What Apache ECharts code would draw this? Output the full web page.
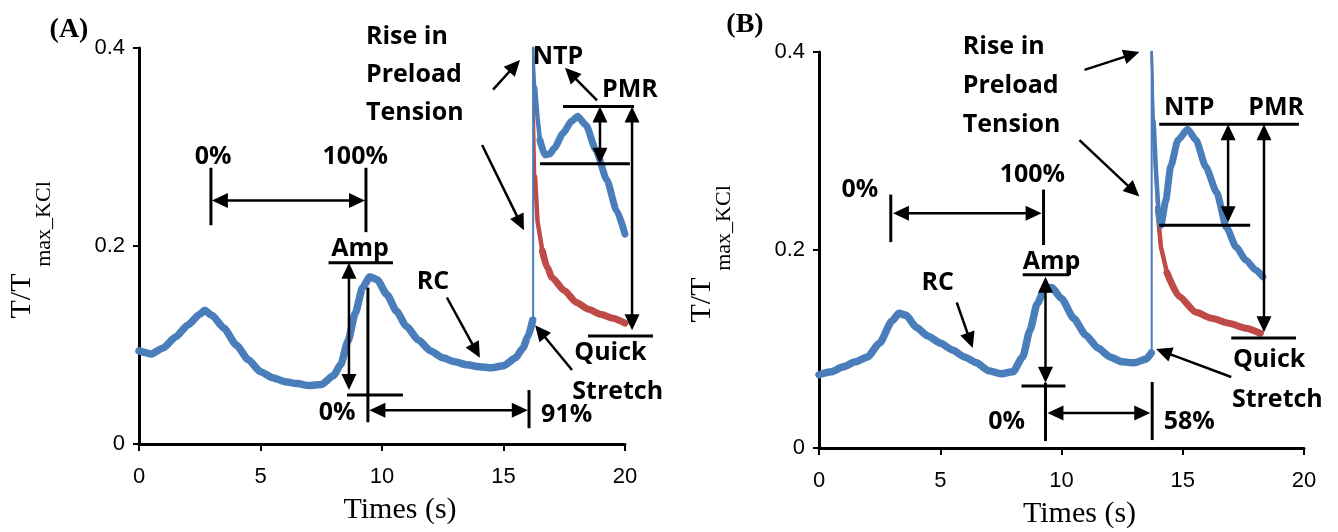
<!DOCTYPE html>
<html>
<head>
<meta charset="utf-8">
<script src="https://cdn.jsdelivr.net/npm/echarts/dist/echarts.min.js"></script>
<style>
  html, body { margin: 0; padding: 0; background: #fff; }
  #chart { width: 1338px; height: 532px; }
</style>
</head>
<body>
<div id="chart"></div>
<script>
// ---- Panel A: time (s) and normalised tension T/Tmax_KCl ----
const timeA_pre = [0, 0.5, 1, 1.5, 2, 2.5, 2.7, 3, 3.5, 4, 4.5, 5, 5.5, 6, 6.5, 7, 7.5, 8, 8.3, 8.6, 8.9, 9.2, 9.5, 9.8, 10.2, 10.6, 11, 11.5, 12, 12.5, 13, 13.5, 14, 14.5, 15, 15.5, 15.8, 16, 16.2];
const tensA_pre = [0.094, 0.091, 0.097, 0.108, 0.120, 0.131, 0.135, 0.130, 0.117, 0.100, 0.085, 0.073, 0.067, 0.063, 0.061, 0.059, 0.060, 0.069, 0.080, 0.104, 0.132, 0.158, 0.169, 0.166, 0.151, 0.134, 0.119, 0.105, 0.094, 0.087, 0.083, 0.080, 0.078, 0.077, 0.079, 0.087, 0.097, 0.108, 0.125];
const timeA_spike = [16.22, 16.22];
const tensA_spike = [0.125, 0.400];
const timeA_red = [16.22, 16.25, 16.3, 16.4, 16.6, 16.8, 17, 17.5, 18, 18.5, 19, 19.5, 20];
const tensA_red = [0.400, 0.330, 0.270, 0.225, 0.195, 0.178, 0.168, 0.155, 0.143, 0.136, 0.131, 0.127, 0.122];
const timeA_post = [16.22, 16.3, 16.4, 16.5, 16.7, 16.9, 17.1, 17.45, 17.8, 18.05, 18.4, 18.8, 19.25, 19.65, 20];
const tensA_post = [0.400, 0.360, 0.330, 0.307, 0.292, 0.293, 0.299, 0.314, 0.326, 0.331, 0.322, 0.297, 0.267, 0.236, 0.212];

// ---- Panel B ----
const timeB_pre = [0, 0.5, 1, 1.5, 2, 2.5, 3, 3.3, 3.6, 4, 4.5, 5, 5.5, 6, 6.5, 7, 7.5, 8, 8.4, 8.7, 9, 9.3, 9.6, 10, 10.5, 11, 11.5, 12, 12.5, 13, 13.5, 13.7];
const tensB_pre = [0.074, 0.077, 0.082, 0.087, 0.092, 0.106, 0.128, 0.136, 0.134, 0.122, 0.113, 0.106, 0.099, 0.092, 0.086, 0.078, 0.075, 0.077, 0.092, 0.119, 0.146, 0.160, 0.162, 0.151, 0.131, 0.114, 0.101, 0.092, 0.087, 0.086, 0.090, 0.096];
const timeB_spike = [13.72, 13.72];
const tensB_spike = [0.096, 0.400];
const timeB_red = [13.72, 13.8, 13.95, 14.1, 14.35, 14.85, 15.55, 16.2, 16.9, 17.6, 18.2];
const tensB_red = [0.400, 0.311, 0.243, 0.203, 0.177, 0.153, 0.137, 0.131, 0.126, 0.121, 0.116];
const timeB_post = [13.72, 13.8, 13.9, 14.0, 14.1, 14.3, 14.5, 14.8, 15.2, 15.55, 15.95, 16.4, 16.8, 17.2, 17.6, 18.0, 18.3];
const tensB_post = [0.400, 0.330, 0.278, 0.240, 0.225, 0.250, 0.284, 0.311, 0.322, 0.311, 0.284, 0.258, 0.223, 0.203, 0.190, 0.180, 0.173];

const xTicks = [0, 5, 10, 15, 20];
const yTicks = [0, 0.2, 0.4];

// Annotation geometry, in data units (time, tension)
const annA = {
  lines: [
    [2.96, 0.279, 2.96, 0.221],
    [9.34, 0.279, 9.34, 0.214],
    [7.8, 0.183, 10.45, 0.183],
    [8.56, 0.0495, 10.86, 0.0495],
    [9.42, 0.158, 9.42, 0.022],
    [16.05, 0.0545, 16.05, 0.016],
    [17.45, 0.341, 20.37, 0.341],
    [16.5, 0.283, 20.2, 0.283],
    [18.48, 0.109, 21.15, 0.109]
  ],
  doubleArrows: [
    [3.0, 0.246, 9.3, 0.246],
    [8.64, 0.183, 8.64, 0.0545],
    [9.48, 0.034, 16.0, 0.034],
    [18.97, 0.341, 18.97, 0.283],
    [20.29, 0.341, 20.29, 0.115]
  ],
  arrows: [
    [12.67, 0.148, 14.03, 0.087],
    [17.82, 0.0747, 16.3, 0.120],
    [14.57, 0.358, 15.68, 0.388],
    [14.12, 0.302, 15.84, 0.216],
    [18.85, 0.347, 17.53, 0.380]
  ],
  labels: [
    ['0%', 3.05, 0.290, 'center'],
    ['100%', 8.9, 0.290, 'center'],
    ['Amp', 9.1, 0.197, 'center'],
    ['0%', 8.15, 0.031, 'center'],
    ['91%', 17.6, 0.029, 'center'],
    ['RC', 12.1, 0.164, 'center'],
    ['Quick', 19.4, 0.092, 'center'],
    ['Stretch', 19.7, 0.0525, 'center'],
    ['Rise in', 9.34, 0.411, 'left'],
    ['Preload', 9.34, 0.373, 'left'],
    ['Tension', 9.34, 0.334, 'left'],
    ['NTP', 17.24, 0.391, 'center'],
    ['PMR', 20.2, 0.358, 'center']
  ]
};

const annB = {
  lines: [
    [2.96, 0.256, 2.96, 0.208],
    [9.26, 0.261, 9.26, 0.205],
    [8.4, 0.175, 10.33, 0.175],
    [10.33, 0.175, 10.33, 0.188],
    [8.35, 0.0626, 10.16, 0.0626],
    [9.34, 0.066, 9.34, 0.007],
    [13.74, 0.0667, 13.74, 0.008],
    [14.03, 0.327, 19.79, 0.327],
    [14.03, 0.225, 17.78, 0.225],
    [17.0, 0.111, 19.67, 0.111]
  ],
  doubleArrows: [
    [3.05, 0.237, 9.18, 0.237],
    [9.34, 0.173, 9.34, 0.066],
    [9.42, 0.0354, 13.66, 0.0354],
    [16.87, 0.327, 16.87, 0.228],
    [18.35, 0.327, 18.35, 0.117]
  ],
  arrows: [
    [5.68, 0.147, 6.34, 0.101],
    [17.0, 0.0717, 13.9, 0.100],
    [10.95, 0.382, 13.21, 0.400],
    [10.74, 0.311, 13.21, 0.254]
  ],
  labels: [
    ['0%', 1.69, 0.261, 'center'],
    ['100%', 8.8, 0.276, 'center'],
    ['Amp', 9.59, 0.188, 'center'],
    ['0%', 7.74, 0.026, 'center'],
    ['58%', 15.27, 0.026, 'center'],
    ['RC', 4.9, 0.167, 'center'],
    ['Quick', 18.56, 0.089, 'center'],
    ['Stretch', 18.9, 0.0485, 'center'],
    ['Rise in', 5.93, 0.405, 'left'],
    ['Preload', 5.93, 0.366, 'left'],
    ['Tension', 5.93, 0.326, 'left'],
    ['NTP', 15.27, 0.344, 'center'],
    ['PMR', 18.85, 0.344, 'center']
  ]
};

const BLUE = '#4a7ebb';
const RED = '#be4b48';
const tickFont = "'Liberation Sans Narrow', 'Arial Narrow', 'Liberation Sans', sans-serif";
const serif = "'Liberation Serif', 'Times New Roman', serif";
const labelFont = "'Open Sans', sans-serif";

const zip = (ts, vs) => ts.map((t, i) => [t, vs[i]]);

function xAxis(g) {
  return {
    type: 'value', gridIndex: g, min: xTicks[0], max: xTicks[xTicks.length - 1], interval: 5,
    axisLine: { show: true, onZero: false, lineStyle: { color: '#000', width: 3 } },
    axisTick: { show: true, length: 7, lineStyle: { color: '#000', width: 2 } },
    axisLabel: { color: '#000', fontFamily: tickFont, fontSize: 22, margin: 22 },
    splitLine: { show: false }
  };
}
function yAxis(g) {
  return {
    type: 'value', gridIndex: g, min: yTicks[0], max: yTicks[yTicks.length - 1], interval: 0.2,
    axisLine: { show: true, onZero: false, lineStyle: { color: '#000', width: 3 } },
    axisTick: { show: true, length: 6, lineStyle: { color: '#000', width: 2 } },
    axisLabel: { color: '#000', fontFamily: tickFont, fontSize: 22, margin: 14,
      formatter: v => (v === 0 ? '0' : v.toFixed(1)) },
    splitLine: { show: false }
  };
}
function trace(g, data, color, width, smooth) {
  return {
    type: 'line', xAxisIndex: g, yAxisIndex: g, data, showSymbol: false, symbol: 'none',
    smooth: smooth, smoothMonotone: 'x', clip: false,
    lineStyle: { color, width, cap: 'round', join: 'round' }, z: 2, silent: true
  };
}
// a decay after the stretch: thin on its steep head, widening into the noisy band
function tapered(g, ts, vs, k1, k2, color) {
  const d = zip(ts, vs);
  return [
    trace(g, d.slice(0, k1 + 1), color, 2.5, 0),
    trace(g, d.slice(k1, k2 + 1), color, 4.5, 0),
    trace(g, d.slice(k2), color, 7, 0.2)
  ];
}

const chart = echarts.init(document.getElementById('chart'));
chart.setOption({
  backgroundColor: '#fff',
  animation: false,
  grid: [
    { left: 139, top: 48, width: 486, height: 396 },
    { left: 819, top: 52, width: 485, height: 396 }
  ],
  xAxis: [xAxis(0), xAxis(1)],
  yAxis: [yAxis(0), yAxis(1)],
  series: [].concat(
    tapered(0, timeA_red, tensA_red, 2, 4, RED),
    [trace(0, zip(timeA_pre, tensA_pre), BLUE, 7.5, 0.2),
     trace(0, zip(timeA_spike, tensA_spike), BLUE, 2, 0)],
    tapered(0, timeA_post, tensA_post, 1, 3, BLUE),
    tapered(1, timeB_red, tensB_red, 2, 4, RED),
    [trace(1, zip(timeB_pre, tensB_pre), BLUE, 7.5, 0.2),
     trace(1, zip(timeB_spike, tensB_spike), BLUE, 2, 0)],
    tapered(1, timeB_post, tensB_post, 1, 3, BLUE)
  )
});

// ---- annotation overlay built through the grid coordinate systems ----
function buildOverlay(g, ann) {
  const px = (t, v) => chart.convertToPixel({ gridIndex: g }, [t, v]);
  const out = [];
  const ink = { stroke: '#000', lineWidth: 3 };
  ann.lines.forEach(([t1, v1, t2, v2]) => {
    const a = px(t1, v1), b = px(t2, v2);
    out.push({ type: 'line', z: 100, shape: { x1: a[0], y1: a[1], x2: b[0], y2: b[1] }, style: ink });
  });
  const L = 16, W = 7.5;
  function head(tip, ux, uy) {
    const bx = tip[0] - ux * L, by = tip[1] - uy * L;
    return { type: 'polygon', z: 101,
      shape: { points: [[tip[0], tip[1]], [bx - uy * W, by + ux * W], [bx + uy * W, by - ux * W]] },
      style: { fill: '#000' } };
  }
  function arrow(t1, v1, t2, v2, both) {
    const a = px(t1, v1), b = px(t2, v2);
    const dx = b[0] - a[0], dy = b[1] - a[1], len = Math.hypot(dx, dy);
    const ux = dx / len, uy = dy / len;
    const s = both ? [a[0] + ux * (L - 2), a[1] + uy * (L - 2)] : a;
    const e = [b[0] - ux * (L - 2), b[1] - uy * (L - 2)];
    out.push({ type: 'line', z: 100, shape: { x1: s[0], y1: s[1], x2: e[0], y2: e[1] },
      style: { stroke: '#000', lineWidth: 2.5 } });
    out.push(head(b, ux, uy));
    if (both) out.push(head(a, -ux, -uy));
  }
  ann.doubleArrows.forEach(d => arrow(d[0], d[1], d[2], d[3], true));
  ann.arrows.forEach(d => arrow(d[0], d[1], d[2], d[3], false));
  ann.labels.forEach(([txt, t, v, align]) => {
    const p = px(t, v);
    out.push({ type: 'text', z: 102, x: p[0], y: p[1],
      style: { text: txt, fill: '#000', fontFamily: labelFont, fontWeight: 'bold', fontSize: 25,
        align, verticalAlign: 'middle' } });
  });
  return out;
}

function titles(g, panelTag, tagPos) {
  const origin = chart.convertToPixel({ gridIndex: g }, [0, 0]);
  const mid = chart.convertToPixel({ gridIndex: g }, [10, 0.2]);
  return [
    { type: 'text', z: 102, x: tagPos[0], y: tagPos[1],
      style: { text: panelTag, fill: '#000', fontFamily: serif, fontWeight: 'bold', fontSize: 28,
        align: 'center', verticalAlign: 'middle' } },
    { type: 'text', z: 102, x: mid[0] + 18, y: origin[1] + 66,
      style: { text: 'Times (s)', fill: '#000', fontFamily: serif, fontSize: 30,
        align: 'center', verticalAlign: 'middle' } },
    { type: 'text', z: 102, x: origin[0] - 117, y: mid[1] + 50, rotation: Math.PI / 2,
      style: { text: 'T/T', fill: '#000', fontFamily: serif, fontSize: 30,
        align: 'center', verticalAlign: 'middle' } },
    { type: 'text', z: 102, x: origin[0] - 95, y: mid[1] - 22, rotation: Math.PI / 2,
      style: { text: 'max_KCl', fill: '#000', fontFamily: serif, fontSize: 22,
        align: 'center', verticalAlign: 'middle' } }
  ];
}

chart.setOption({
  graphic: [].concat(
    buildOverlay(0, annA),
    buildOverlay(1, annB),
    titles(0, '(A)', [69, 30]),
    titles(1, '(B)', [745, 25])
  )
});
</script>
</body>
</html>
